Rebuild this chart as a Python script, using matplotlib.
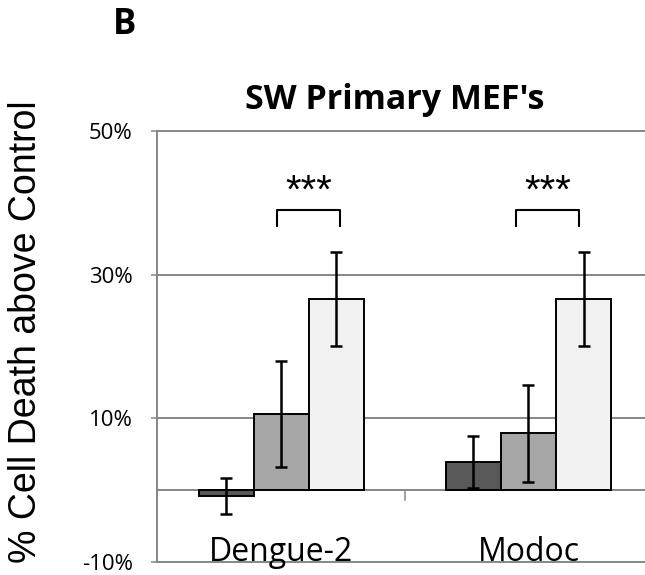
import numpy as np
from matplotlib import pyplot as plt
from matplotlib import rc

#Configuration:
rc('font', family=['Open Sans', 'DejaVu Sans'])

# data (% cell death above control)
categories = ['Dengue-2', 'Modoc']
dark_vals = [-0.8, 3.9]
dark_err = [2.5, 3.6]
mid_vals = [10.6, 7.9]
mid_err = [7.4, 6.8]
light_vals = [26.6, 26.6]
light_err = [6.5, 6.5]
yticks = [-10, 10, 30, 50]
ytick_labels = ['-10%', '10%', '30%', '50%']
signif = ['***', '***']

GRID = '#868686'
colors = ['#595959', '#a6a6a6', '#f2f2f2']

f = plt.figure(figsize=(6.45, 5.75), dpi=100)
ax = f.add_axes([157/645, 1-562/575, 495/645, 431/575])

x = np.arange(len(categories))
w = 0.2227
series = [(dark_vals, dark_err), (mid_vals, mid_err), (light_vals, light_err)]
for i, (vals, errs) in enumerate(series):
    pos = x + (i-1)*w
    ax.bar(pos, vals, width=w, color=colors[i], edgecolor='black', linewidth=1.4, zorder=3)
    ax.errorbar(pos, vals, yerr=errs, fmt='none', ecolor='black', elinewidth=1.8,
                capsize=4.3, capthick=1.8, zorder=4)

ax.set_xlim(-0.504, 1.5)
ax.set_ylim(-10, 50)

#gridlines + zero line
for yv in yticks + [0]:
    ax.axhline(yv, color=GRID, lw=1.4, zorder=1, clip_on=False)
# category separator tick
ax.plot([0.5, 0.5], [0, -1.4], color=GRID, lw=1.1, zorder=1)

for s in ['top', 'right', 'bottom']:
    ax.spines[s].set_visible(False)
ax.spines['left'].set_color(GRID)
ax.spines['left'].set_linewidth(1.4)
ax.set_xticks([])
ax.set_yticks(yticks)
ax.set_yticklabels(ytick_labels, fontsize=16)
ax.tick_params(axis='y', length=4.5, width=1.1, color=GRID, pad=13)

#category labels inside the plot
for xi, lab in zip(x, categories):
    ax.text(xi, -9.85, lab, ha='center', va='baseline', fontsize=23)

#significance brackets
br_x = [(-0.018, 0.237), (0.949, 1.204)]
for (x0, x1), s in zip(br_x, signif):
    ax.plot([x0, x0, x1, x1], [36.8, 39.0, 39.0, 36.8], color='black', lw=1.5, zorder=4)
    ax.text((x0+x1)/2, 41.5, s, ha='center', va='center', fontsize=29,
            family=['Liberation Sans'])

f.text(395/645, 1-100/575, "SW Primary MEF's", ha='center', va='center',
       fontsize=24.5, fontweight='bold')
f.text(125/645, 1-25/575, 'B', ha='center', va='center', fontsize=25, fontweight='bold')
f.text(26/645, 1-332/575, '% Cell Death above Control', rotation=90, ha='center',
       va='center', fontsize=27, family=['Liberation Sans'])

f.savefig('out.png', dpi=100)
